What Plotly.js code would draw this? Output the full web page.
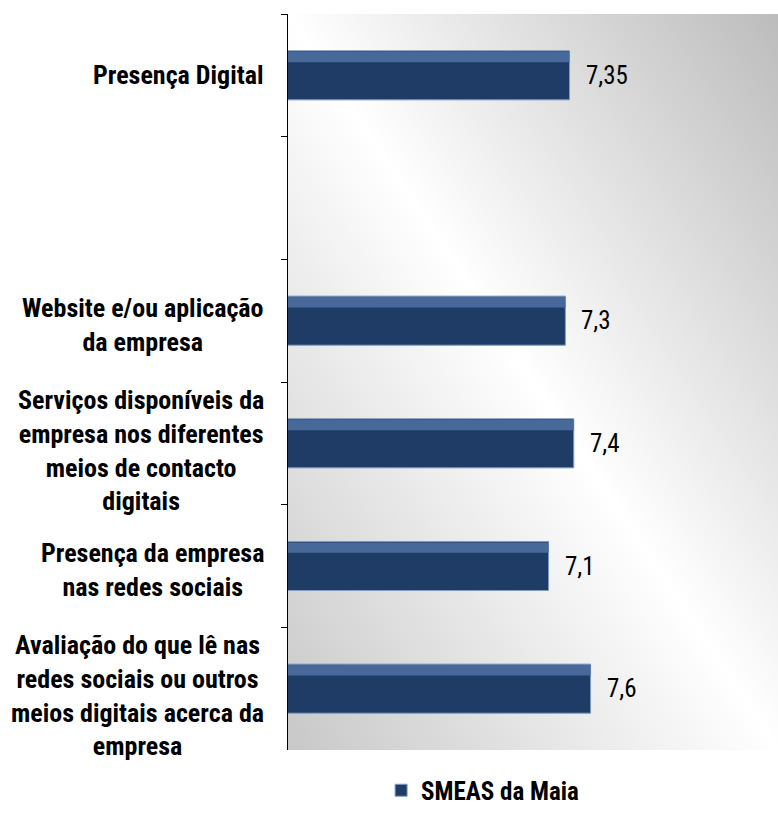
<!DOCTYPE html>
<html>
<head>
<meta charset="utf-8">
<script src="https://cdn.plot.ly/plotly-3.0.1.min.js"></script>
<style>
  html, body { margin: 0; padding: 0; background: #ffffff; }
  #chart { width: 778px; height: 814px; }
</style>
</head>
<body>
<div id="chart"></div>
<script>
// ---- data ----
const categories = [
  "Presença Digital",
  " ",
  "Website e/ou aplicação da empresa",
  "Serviços disponíveis da empresa nos diferentes meios de contacto digitais",
  "Presença da empresa nas redes sociais",
  "Avaliação do que lê nas redes sociais ou outros meios digitais acerca da empresa"
];
const categoryLabels = [
  "Presença Digital",
  "",
  "Website e/ou aplicação<br>da empresa",
  "Serviços disponíveis da<br>empresa nos diferentes<br>meios de contacto<br>digitais",
  "Presença da empresa<br>nas redes sociais",
  "Avaliação do que lê nas<br>redes sociais ou outros<br>meios digitais acerca da<br>empresa"
];
const values = [7.35, null, 7.3, 7.4, 7.1, 7.6];
const seriesName = "SMEAS da Maia";

// ---- style ----
const FONT = "'Liberation Sans Narrow', 'Arial Narrow', 'Roboto Condensed', 'Open Sans Condensed', 'Liberation Sans', Arial, sans-serif";

const bgSvg = "<svg xmlns='http://www.w3.org/2000/svg' width='100' height='100' viewBox='0 0 100 100' preserveAspectRatio='none'>" +
  "<defs><linearGradient id='g' x1='1' y1='0' x2='0' y2='1'>" +
  "<stop offset='0' stop-color='#bcbcbc'/><stop offset='0.5' stop-color='#ffffff'/><stop offset='1' stop-color='#c8c8c8'/>" +
  "</linearGradient></defs><rect width='100' height='100' fill='url(#g)'/></svg>";
const bgUri = "data:image/svg+xml;charset=utf-8," + encodeURIComponent(bgSvg);

const mainBar = {
  type: "bar",
  orientation: "h",
  name: seriesName,
  y: categories,
  x: values,
  width: 0.4,
  marker: { color: "#1f3c67", line: { color: "#7f9dc2", width: 1 } },
  hoverinfo: "x+y",
  showlegend: true
};
const bevelBar = {
  type: "bar",
  orientation: "h",
  name: seriesName + " bevel",
  y: categories,
  x: values,
  width: 0.085,
  offset: -0.192,
  marker: { color: "#46699a", line: { width: 0 } },
  hoverinfo: "skip",
  showlegend: false
};

const annotations = [];
categories.forEach((c, i) => {
  if (categoryLabels[i]) {
    const nLines = categoryLabels[i].split("<br>").length;
    annotations.push({
      xref: "paper", yref: "y", x: 0, y: c,
      xanchor: "right", yanchor: "middle", xshift: -22,
      yshift: nLines > 1 ? -(1 + nLines * 1.5) : 0,
      text: categoryLabels[i], align: "center", showarrow: false,
      font: { family: FONT, size: 26, color: "#000000", weight: "bold" }
    });
  }
  if (values[i] !== null) {
    annotations.push({
      xref: "x", yref: "y", x: values[i], y: c,
      xanchor: "left", yanchor: "middle", xshift: 14,
      text: String(values[i]).replace(".", ","), showarrow: false,
      font: { family: FONT, size: 25, color: "#000000" }
    });
  }
});

const layout = {
  width: 778, height: 814,
  margin: { l: 288, r: 0, t: 14, b: 57 },
  paper_bgcolor: "#ffffff",
  plot_bgcolor: "rgba(0,0,0,0)",
  barmode: "overlay",
  font: { family: FONT, size: 25, color: "#000000" },
  xaxis: {
    range: [4, 9.83], visible: false, fixedrange: true
  },
  yaxis: {
    type: "category",
    categoryorder: "array", categoryarray: categories,
    range: [5.5, -0.5],
    showticklabels: false,
    ticks: "outside", tickson: "boundaries", ticklen: 6, tickcolor: "#000000", tickwidth: 1,
    showline: true, linecolor: "#000000", linewidth: 1,
    showgrid: false, zeroline: false, fixedrange: true
  },
  images: [{
    source: bgUri, xref: "paper", yref: "paper",
    x: 0, y: 1, sizex: 1, sizey: 1, xanchor: "left", yanchor: "top",
    sizing: "stretch", layer: "below"
  }],
  legend: {
    orientation: "h", x: 0.19, xanchor: "left", y: -0.055, yanchor: "middle",
    font: { family: FONT, size: 25, color: "#000000", weight: "bold" },
    bgcolor: "rgba(0,0,0,0)"
  },
  annotations: annotations,
  showlegend: true
};

Plotly.newPlot("chart", [mainBar, bevelBar], layout, { displayModeBar: false, staticPlot: true });
</script>
</body>
</html>
